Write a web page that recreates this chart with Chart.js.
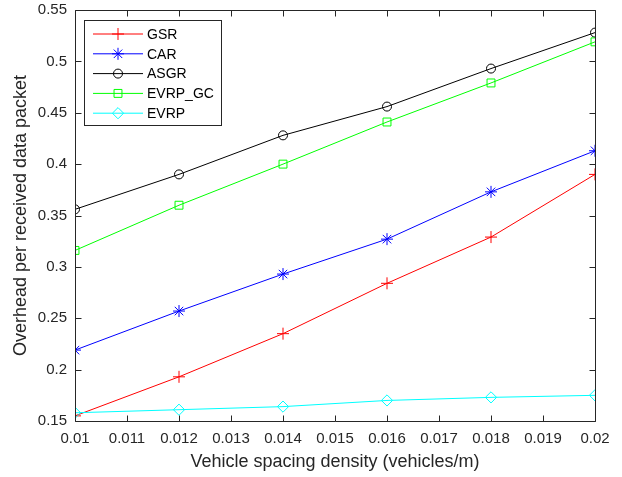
<!DOCTYPE html>
<html>
<head>
<meta charset="utf-8">
<script src="https://cdn.jsdelivr.net/npm/chart.js@4.4.1/dist/chart.umd.min.js"></script>
<style>
  html, body { margin: 0; padding: 0; background: #fff; }
  #wrap { width: 622px; height: 477px; }
</style>
</head>
<body>
<div id="wrap"><canvas id="overheadChart" width="622" height="477"></canvas></div>
<script>
// vehicle spacing density (vehicles/m)
const density = [0.010, 0.012, 0.014, 0.016, 0.018, 0.020];

const gsr    = [0.155, 0.193, 0.235, 0.284, 0.329, 0.390];
const car    = [0.219, 0.257, 0.293, 0.327, 0.373, 0.413];
const asgr   = [0.356, 0.390, 0.428, 0.456, 0.493, 0.528];
const evrpGc = [0.316, 0.360, 0.400, 0.441, 0.479, 0.519];
const evrp   = [0.158, 0.161, 0.164, 0.170, 0.173, 0.175];

const seriesNames = ['GSR', 'CAR', 'ASGR', 'EVRP_GC', 'EVRP'];
const seriesValues = [gsr, car, asgr, evrpGc, evrp];
const seriesColors = ['#ff0000', '#0000ff', '#000000', '#00ff00', '#00ffff'];
const seriesMarkers = ['cross', 'star', 'circle', 'rect', 'rectRot'];
const markerSizes = [6, 6, 4.5, 5.6, 5.6];

const AXIS = '#262626';

const toPoints = vals => vals.map((v, i) => ({ x: density[i], y: v }));

const datasets = seriesNames.map((name, i) => ({
    label: name,
    data: toPoints(seriesValues[i]),
    borderColor: seriesColors[i],
    backgroundColor: 'rgba(0,0,0,0)',
    borderWidth: 1,
    pointStyle: seriesMarkers[i],
    pointRadius: markerSizes[i],
    pointHoverRadius: markerSizes[i],
    pointBorderColor: seriesColors[i],
    pointBackgroundColor: 'rgba(0,0,0,0)',
    pointBorderWidth: 1,
    tension: 0,
    fill: false,
    order: seriesNames.length - i,
}));

// MATLAB style box with inward ticks on all four sides
const boxPlugin = {
    id: 'boxPlugin',
    afterDatasetsDraw(chart) {
        const { ctx, chartArea: a, scales } = chart;
        const L = Math.round(a.left) + 0.5, R = Math.round(a.right) + 0.5;
        const T = Math.round(a.top) + 0.5, B = Math.round(a.bottom) + 0.5;
        const len = 6;
        ctx.save();
        ctx.strokeStyle = AXIS;
        ctx.lineWidth = 1;
        ctx.beginPath();
        ctx.rect(L, T, R - L, B - T);
        scales.x.ticks.forEach(t => {
            const px = Math.round(scales.x.getPixelForValue(t.value)) + 0.5;
            ctx.moveTo(px, B); ctx.lineTo(px, B - len);
            ctx.moveTo(px, T); ctx.lineTo(px, T + len);
        });
        scales.y.ticks.forEach(t => {
            const py = Math.round(scales.y.getPixelForValue(t.value)) + 0.5;
            ctx.moveTo(L, py); ctx.lineTo(L + len, py);
            ctx.moveTo(R, py); ctx.lineTo(R - len, py);
        });
        ctx.stroke();
        ctx.restore();
    }
};

// legend box in the upper left corner, drawn like the MATLAB one
const legendPlugin = {
    id: 'legendPlugin',
    afterDraw(chart) {
        const { ctx } = chart;
        const bx = 84.5, by = 20.5, bw = 137, bh = 105;
        ctx.save();
        ctx.fillStyle = '#fff';
        ctx.fillRect(bx, by, bw, bh);
        ctx.strokeStyle = AXIS;
        ctx.lineWidth = 1;
        ctx.strokeRect(bx, by, bw, bh);
        ctx.font = '14px "Liberation Sans", Arial, sans-serif';
        ctx.textBaseline = 'middle';
        seriesNames.forEach((name, i) => {
            const y = 34 + i * 19.8;
            ctx.strokeStyle = seriesColors[i];
            ctx.lineWidth = 1;
            ctx.beginPath();
            ctx.moveTo(93, y); ctx.lineTo(143, y);
            ctx.stroke();
            ctx.fillStyle = 'rgba(0,0,0,0)';
            Chart.helpers.drawPoint(ctx, {
                pointStyle: seriesMarkers[i],
                radius: markerSizes[i],
                rotation: 0,
                borderWidth: 1
            }, 118, y);
            ctx.fillStyle = '#000';
            ctx.fillText(name, 147, y + 1);
        });
        ctx.restore();
    }
};

const tickFont = { family: '"Liberation Sans", Arial, sans-serif', size: 15 };
const titleFont = { family: '"Liberation Sans", Arial, sans-serif', size: 18 };

new Chart(document.getElementById('overheadChart').getContext('2d'), {
    type: 'line',
    data: { datasets },
    plugins: [boxPlugin, legendPlugin],
    options: {
        responsive: false,
        animation: false,
        events: [],
        layout: { padding: { left: 0, right: 27, top: 10, bottom: 0 } },
        plugins: { legend: { display: false }, tooltip: { enabled: false } },
        scales: {
            x: {
                type: 'linear',
                min: 0.01,
                max: 0.02,
                afterFit: s => { s.height = 56; },
                grid: { display: false, drawTicks: false },
                border: { display: false },
                ticks: {
                    stepSize: 0.001,
                    padding: 9,
                    color: AXIS,
                    font: tickFont,
                    maxRotation: 0,
                    autoSkip: false,
                    callback: v => String(+v.toFixed(3)),
                },
                title: {
                    display: true,
                    text: 'Vehicle spacing density (vehicles/m)',
                    color: AXIS,
                    font: titleFont,
                    padding: { top: 0, bottom: 4 },
                },
            },
            y: {
                min: 0.15,
                max: 0.55,
                afterFit: s => { s.width = 75; s.paddingTop = 0; s.paddingBottom = 0; },
                grid: { display: false, drawTicks: false },
                border: { display: false },
                ticks: {
                    stepSize: 0.05,
                    padding: 8,
                    color: AXIS,
                    font: tickFont,
                    callback: v => String(+v.toFixed(2)),
                },
                title: {
                    display: true,
                    text: 'Overhead per received data packet',
                    color: AXIS,
                    font: titleFont,
                    padding: { top: 10, bottom: 0 },
                },
            },
        },
    },
});
</script>
</body>
</html>
